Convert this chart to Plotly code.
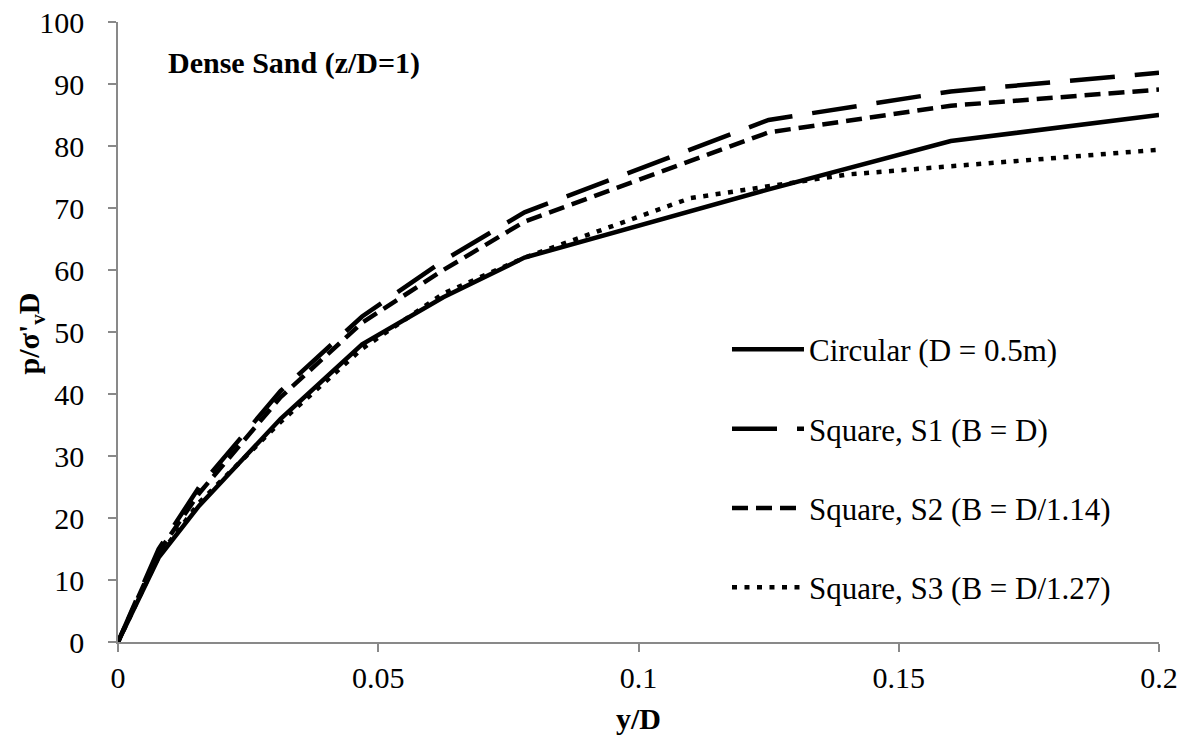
import plotly.graph_objects as go

# y/D values
x_common = [0, 0.0078, 0.0156, 0.03125, 0.0469, 0.0625, 0.0781, 0.125, 0.16, 0.2]
circular = [0, 13.6, 22.0, 36.0, 48.0, 55.6, 62.0, 73.0, 80.8, 85.0]
square_s1 = [0, 15.0, 25.0, 40.5, 52.5, 61.5, 69.3, 84.2, 88.8, 91.8]
square_s2 = [0, 14.5, 24.0, 39.5, 51.5, 60.0, 67.8, 82.2, 86.5, 89.1]
x_s3 = [0, 0.0078, 0.0156, 0.03125, 0.0469, 0.0625, 0.0781, 0.11, 0.14, 0.2]
square_s3 = [0, 13.8, 22.5, 35.5, 47.3, 56.2, 62.0, 71.6, 75.4, 79.4]

names = ["Circular (D = 0.5m)", "Square, S1 (B = D)",
         "Square, S2 (B = D/1.14)", "Square, S3 (B = D/1.27)"]

FONT = "Liberation Serif"

fig = go.Figure()
series = [
    (x_common, circular, names[0], "solid"),
    (x_common, square_s1, names[1], "45px,20px"),
    (x_common, square_s2, names[2], "16px,8px"),
    (x_s3, square_s3, names[3], "5px,7.5px"),
]
for i, (xs, ys, nm, dash) in enumerate(series):
    fig.add_trace(go.Scatter(
        x=xs, y=ys, mode="lines", name=nm, legendgroup=f"g{i}",
        line=dict(color="black", width=4.5, dash=dash),
    ))

axis_common = dict(
    showgrid=False, zeroline=False, showline=True, linecolor="#898989",
    linewidth=1.5, ticks="outside", ticklen=8, tickwidth=1.5,
    tickcolor="#898989", tickfont=dict(family=FONT, size=30, color="black"),
    automargin=False,
)

fig.update_layout(
    width=1190, height=744,
    margin=dict(l=117.5, r=30.5, t=22, b=102),
    paper_bgcolor="white", plot_bgcolor="white",
    font=dict(family=FONT, size=30, color="black"),
    xaxis=dict(range=[0, 0.2], dtick=0.05, tick0=0,
               title=dict(text="<b>y/D</b>", font=dict(family=FONT, size=30)),
               ticklabelstandoff=0, **axis_common),
    yaxis=dict(range=[0, 100], dtick=10, tick0=0,
               ticklabelstandoff=18, **axis_common),
    legend=dict(x=0.585, y=0.515, xanchor="left", yanchor="top",
                bgcolor="rgba(0,0,0,0)", font=dict(family=FONT, size=31),
                itemwidth=72, tracegroupgap=36),
    showlegend=True,
)

# y-axis title (placed as rotated text)
fig.add_annotation(
    x=-0.084, y=0.497, xref="paper", yref="paper", xanchor="center", yanchor="middle",
    text="<b>p/σ'<sub>v</sub>D</b>", showarrow=False, textangle=-90,
    font=dict(family=FONT, size=30, color="black"),
)

fig.add_annotation(
    x=0.046, y=0.934, xref="paper", yref="paper", xanchor="left", yanchor="middle",
    text="<b>Dense Sand (z/D=1)</b>", showarrow=False,
    font=dict(family=FONT, size=30, color="black"),
)

fig.write_html("out.html")
